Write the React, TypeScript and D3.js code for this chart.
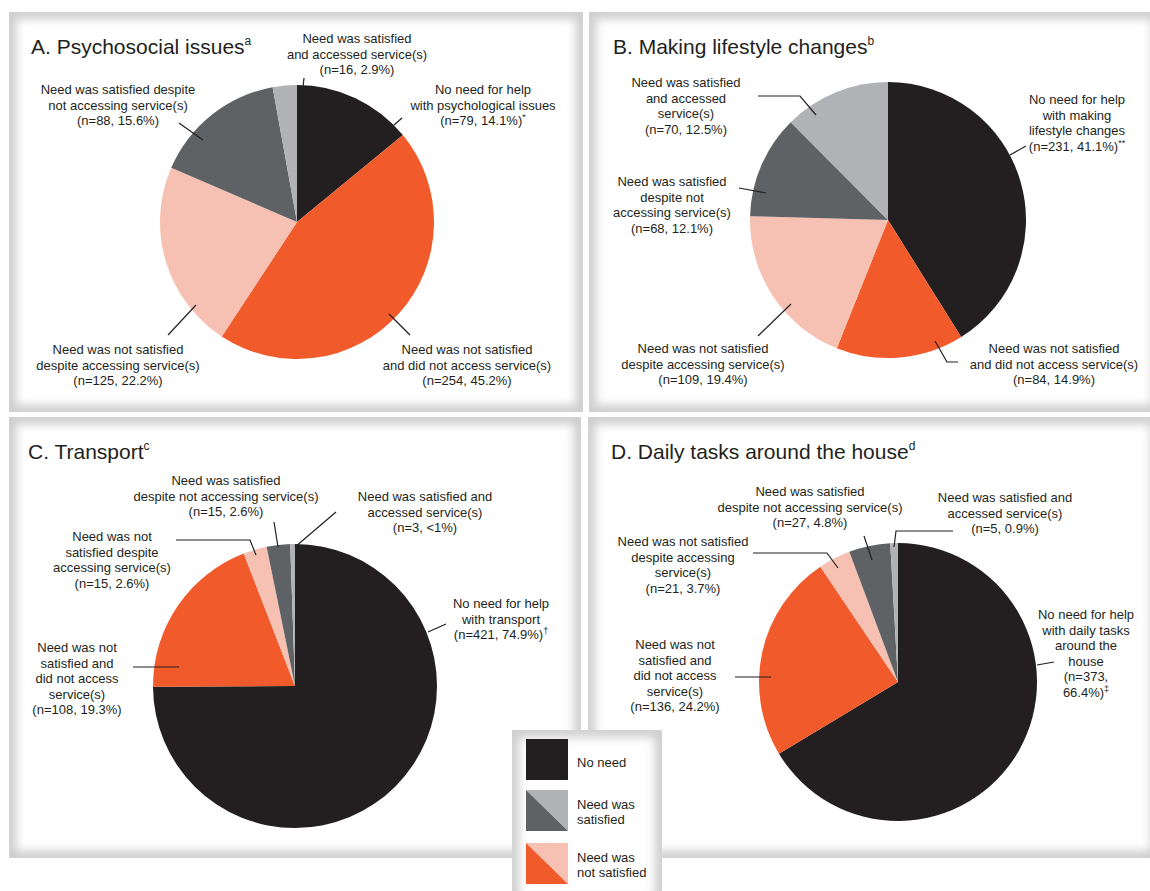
import React from 'react';
import * as d3 from 'd3';

const width = 1150;
const height = 891;

// slice order, clockwise from 12 o'clock
const categories = [
  'No need',
  'Need was not satisfied and did not access service(s)',
  'Need was not satisfied despite accessing service(s)',
  'Need was satisfied despite not accessing service(s)',
  'Need was satisfied and accessed service(s)',
];
const colors = ['#231f20', '#f15a2b', '#f6c1b2', '#5f6264', '#b0b2b5'];

const psychosocial = [79, 254, 125, 88, 16];
const lifestyle = [231, 84, 109, 68, 70];
const transport = [421, 108, 15, 15, 3];
const dailyTasks = [373, 136, 21, 27, 5];

const titles = ['A. Psychosocial issues', 'B. Making lifestyle changes', 'C. Transport', 'D. Daily tasks around the house'];
const titleSups = ['a', 'b', 'c', 'd'];

const labelsA = [
  ['No need for help', 'with psychological issues', '(n=79, 14.1%)'],
  ['Need was not satisfied', 'and did not access service(s)', '(n=254, 45.2%)'],
  ['Need was not satisfied', 'despite accessing service(s)', '(n=125, 22.2%)'],
  ['Need was satisfied despite', 'not accessing service(s)', '(n=88, 15.6%)'],
  ['Need was satisfied', 'and accessed service(s)', '(n=16, 2.9%)'],
];
const labelsB = [
  ['No need for help', 'with making', 'lifestyle changes', '(n=231, 41.1%)'],
  ['Need was not satisfied', 'and did not access service(s)', '(n=84, 14.9%)'],
  ['Need was not satisfied', 'despite accessing service(s)', '(n=109, 19.4%)'],
  ['Need was satisfied', 'despite not', 'accessing service(s)', '(n=68, 12.1%)'],
  ['Need was satisfied', 'and accessed', 'service(s)', '(n=70, 12.5%)'],
];
const labelsC = [
  ['No need for help', 'with transport', '(n=421, 74.9%)'],
  ['Need was not', 'satisfied and', 'did not access', 'service(s)', '(n=108, 19.3%)'],
  ['Need was not', 'satisfied despite', 'accessing service(s)', '(n=15, 2.6%)'],
  ['Need was satisfied', 'despite not accessing service(s)', '(n=15, 2.6%)'],
  ['Need was satisfied and', 'accessed service(s)', '(n=3, <1%)'],
];
const labelsD = [
  ['No need for help', 'with daily tasks', 'around the', 'house', '(n=373,', '66.4%)'],
  ['Need was not', 'satisfied and', 'did not access', 'service(s)', '(n=136, 24.2%)'],
  ['Need was not satisfied', 'despite accessing', 'service(s)', '(n=21, 3.7%)'],
  ['Need was satisfied', 'despite not accessing service(s)', '(n=27, 4.8%)'],
  ['Need was satisfied and', 'accessed service(s)', '(n=5, 0.9%)'],
];
const noteMarks = ['*', '**', '\u2020', '\u2021'];

const legendItems = [['No need'], ['Need was', 'satisfied'], ['Need was', 'not satisfied']];

// layout
const panels = [
  { x: 9, y: 12, w: 574, h: 400, cx: 297, cy: 222, r: 137, tx: 31, ty: 54, values: psychosocial, labels: labelsA,
    labelPos: [[483, 94], [467, 354], [118, 354], [118, 94], [357, 43]],
    leaders: [[[105, -104], [97, -97]], [[92, 92], [113, 113]], [[-101, 83], [-129, 113]], [[-118, -99], [-94, -82]], [[7, -144], [5, -126]]] },
  { x: 589, y: 12, w: 570, h: 400, cx: 888, cy: 220, r: 138, tx: 613, ty: 54, values: lifestyle, labels: labelsB,
    labelPos: [[1077, 104], [1054, 353], [703, 353], [672, 186], [686, 87]],
    leaders: [[[138, -74], [122, -65]], [[47, 121], [59, 142], [70, 142]], [[-97, 84], [-130, 116]], [[-149, -32], [-122, -27]], [[-130, -124], [-88, -124], [-72, -105]]] },
  { x: 9, y: 417, w: 572, h: 441, cx: 295, cy: 686, r: 142, tx: 28, ty: 459, values: transport, labels: labelsC,
    labelPos: [[501, 608], [77, 652], [112, 541], [226, 485], [425, 501]],
    leaders: [[[151, -62], [133, -54]], [[-162, -19], [-116, -19]], [[-119, -146], [-45, -146], [-39, -131]], [[-21, -164], [-17, -139]], [[41, -174], [0, -139]]] },
  { x: 588, y: 417, w: 570, h: 441, cx: 898, cy: 682, r: 139, tx: 611, ty: 459, values: dailyTasks, labels: labelsD,
    labelPos: [[1086, 619], [675, 649], [683, 546], [810, 496], [1005, 502]],
    leaders: [[[156, -20], [139, -17]], [[-163, -5], [-127, -5]], [[-145, -129], [-71, -129], [-60, -114]], [[-34, -146], [-26, -122]], [[55, -151], [-2, -151], [-4, -135]]] },
];

const font = "'Liberation Sans', Arial, sans-serif";
const ink = '#231f20';
const lineH = 15.5;

const pie = d3.pie<number>().sort(null).value(d => d);
const line = d3.line();

const ShadowBox = ({ id, x, y, w, h }: { id: string; x: number; y: number; w: number; h: number }) => (
  <g>
    <clipPath id={id}>
      <rect x={x} y={y} width={w} height={h} />
    </clipPath>
    <g clipPath={`url(#${id})`}>
      <rect x={x} y={y} width={w} height={h} fill="#fff" />
      <rect x={x} y={y} width={w} height={h} fill="none" stroke="#cdcdcd" strokeWidth={14} filter="url(#soft)" />
    </g>
  </g>
);

const App = () => {
  const sw = 42;
  const sx = 526;
  const swatchY = [739, 790, 843];
  return (
    <svg width={width} height={height} style={{ position: 'absolute', left: 0, top: 0, background: '#fff' }} fontFamily={font}>
      <defs>
        <filter id="soft" x="-10%" y="-10%" width="120%" height="120%">
          <feGaussianBlur stdDeviation={5} />
        </filter>
      </defs>
      {panels.map((p, pi) => {
        const arcs = pie(p.values);
        const arc = d3.arc<d3.PieArcDatum<number>>().innerRadius(0).outerRadius(p.r);
        return (
          <g key={pi}>
            <ShadowBox id={`clip${pi}`} x={p.x} y={p.y} w={p.w} h={p.h} />
            <text x={p.tx} y={p.ty} fontSize={21} fill={ink}>
              {titles[pi]}
              <tspan fontSize={12} dy={-9}>{titleSups[pi]}</tspan>
            </text>
            <g transform={`translate(${p.cx},${p.cy})`}>
              {arcs.map((a, i) => (
                <path key={i} d={arc(a) as string} fill={colors[i]} />
              ))}
              {p.leaders.map((pts, i) => (
                <path key={i} d={line(pts as [number, number][]) as string} fill="none" stroke={ink} strokeWidth={1.2} />
              ))}
            </g>
            {p.labels.map((lines, i) => (
              <text key={i} x={p.labelPos[i][0]} y={p.labelPos[i][1]} fontSize={13} fill={ink} textAnchor="middle">
                {lines.map((t, j) => (
                  <tspan key={j} x={p.labelPos[i][0]} y={p.labelPos[i][1] + j * lineH}>
                    {t}
                    {i === 0 && j === lines.length - 1 ? (
                      <tspan fontSize={9} dy={-5}>{noteMarks[pi]}</tspan>
                    ) : null}
                  </tspan>
                ))}
              </text>
            ))}
          </g>
        );
      })}
      <ShadowBox id="clipLegend" x={512} y={730} w={150} h={175} />
      <rect x={sx} y={swatchY[0]} width={sw} height={41} fill={colors[0]} />
      {[[3, 4], [1, 2]].map(([dark, light], k) => {
        const y = swatchY[k + 1];
        return (
          <g key={k}>
            <path d={line([[sx, y], [sx + sw, y], [sx + sw, y + 41]]) + 'Z'} fill={colors[light]} />
            <path d={line([[sx, y], [sx, y + 41], [sx + sw, y + 41]]) + 'Z'} fill={colors[dark]} />
          </g>
        );
      })}
      {legendItems.map((lines, k) => {
        const y0 = k === 0 ? 767 : swatchY[k] + 19;
        return (
          <text key={k} x={577} y={y0} fontSize={13} fill={ink}>
            {lines.map((t, j) => (
              <tspan key={j} x={577} y={y0 + j * 15}>{t}</tspan>
            ))}
          </text>
        );
      })}
    </svg>
  );
};

export default App;
